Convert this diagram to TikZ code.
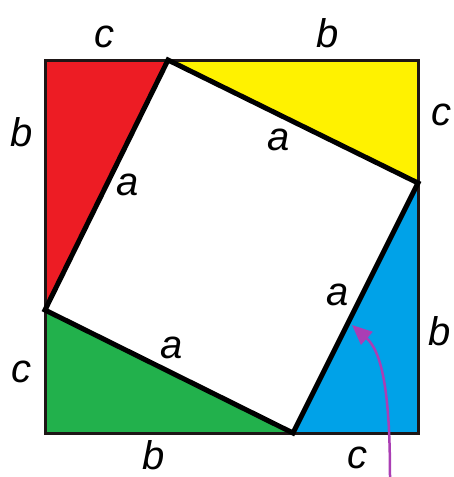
\documentclass[tikz,border=0pt]{standalone}
\usepackage{fontspec}
\setmainfont{Liberation Sans}
\usetikzlibrary{arrows.meta}
\definecolor{myred}{RGB}{237,28,36}
\definecolor{myyellow}{RGB}{255,242,0}
\definecolor{mygreen}{RGB}{34,177,76}
\definecolor{myblue}{RGB}{0,162,232}
\definecolor{mypurple}{RGB}{170,62,180}
\definecolor{edge}{RGB}{30,22,22}
\begin{document}
\begin{tikzpicture}[x=1pt,y=-1pt,
  lab/.style={font=\fontsize{40}{40}\selectfont\itshape, anchor=base, inner sep=0pt},
  outer/.style={line width=3pt, draw=edge},
  inner/.style={line width=5pt, draw=black, line join=miter},
  pointer/.style={draw=mypurple, line width=2.5pt, -{Triangle[length=20pt,width=17pt]}}]
\useasboundingbox (0,0) rectangle (454,477);
\coordinate (TL) at (45,60);
\coordinate (TR) at (418,60);
\coordinate (BR) at (418,433);
\coordinate (BL) at (45,433);
\coordinate (P) at (168,60);
\coordinate (Q) at (418,183);
\coordinate (R) at (293,433);
\coordinate (S) at (45,310);
\fill[myred] (TL) -- (P) -- (S) -- cycle;
\fill[myyellow] (P) -- (TR) -- (Q) -- cycle;
\fill[myblue] (Q) -- (BR) -- (R) -- cycle;
\fill[mygreen] (R) -- (BL) -- (S) -- cycle;
\draw[outer] (TL) rectangle (BR);
\draw[inner] (P) -- (Q) -- (R) -- (S) -- cycle;
% labels
\node[lab] (ctop) at (104,47) {c};
\node[lab] (btop) at (328,47) {b};
\node[lab] (bleft) at (22,146) {b};
\node[lab] (cright) at (441,125) {c};
\node[lab] (atop) at (279,150) {a};
\node[lab] (aleft) at (128,195) {a};
\node[lab] (aright) at (338,305) {a};
\node[lab] (abottom) at (172,358) {a};
\node[lab] (cleft) at (22,382) {c};
\node[lab] (bright) at (440,345) {b};
\node[lab] (bbottom) at (154,469) {b};
\node[lab] (cbottom) at (357,468) {c};
% arrow
\coordinate (arrowstart) at (390,477);
\coordinate (arrowtip) at (352,325);
\draw[pointer] (arrowstart) .. controls (390,392) and (382,352) .. (arrowtip);
\end{tikzpicture}
\end{document}
